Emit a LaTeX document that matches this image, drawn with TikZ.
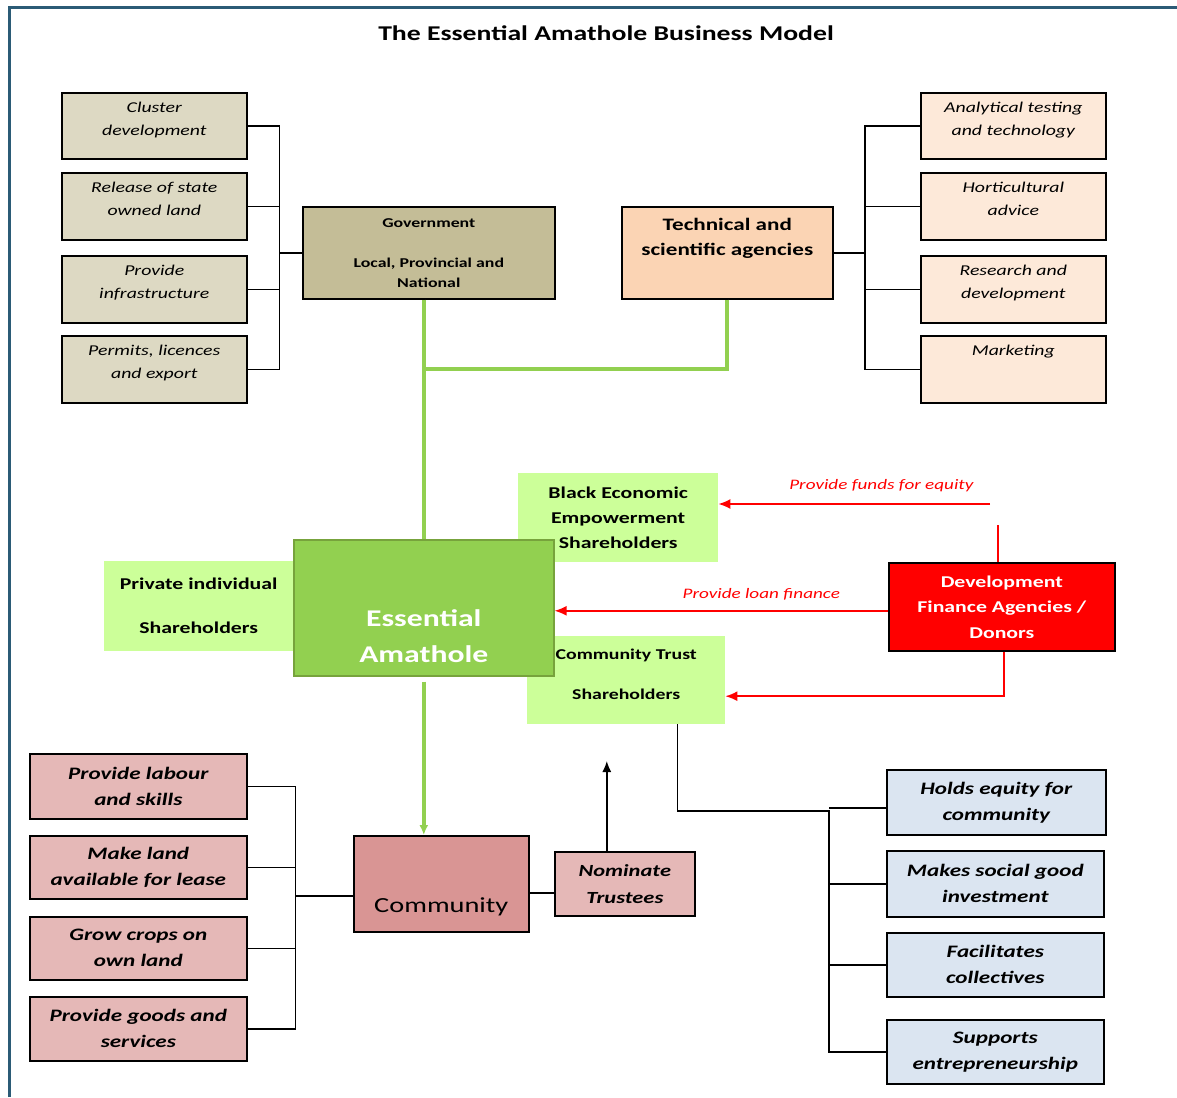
\documentclass[tikz,border=0pt]{standalone}
\usepackage{fontspec}
\setmainfont{Carlito}[FakeStretch=1.32]
\usetikzlibrary{arrows.meta}

\definecolor{frameblue}{HTML}{2B5B76}
\definecolor{tan}{HTML}{DDD9C3}
\definecolor{govtan}{HTML}{C4BD97}
\definecolor{techpeach}{HTML}{FBD4B4}
\definecolor{lightpeach}{HTML}{FDE9D9}
\definecolor{sharegreen}{HTML}{CCFF99}
\definecolor{eagreen}{HTML}{92D050}
\definecolor{eaborder}{HTML}{77A33C}
\definecolor{compink}{HTML}{D99594}
\definecolor{lightpink}{HTML}{E5B8B7}
\definecolor{lightblue}{HTML}{DBE5F1}

\begin{document}
\begin{tikzpicture}[x=1pt,y=-1pt,
  box/.style={draw=black,line width=1.6pt,anchor=north west,align=center,inner sep=0pt},
  topitem/.style={box,fill=tan,minimum width=185pt,font=\fontsize{15}{23}\selectfont\itshape},
  techitem/.style={topitem,fill=lightpeach},
  comitem/.style={box,fill=lightpink,minimum width=217pt,font=\fontsize{17.5}{26}\selectfont\bfseries\itshape},
  trustitem/.style={box,fill=lightblue,minimum width=217pt,font=\fontsize{17.5}{26}\selectfont\bfseries\itshape},
  sharebox/.style={anchor=north west,fill=sharegreen,align=center,inner sep=0pt,font=\fontsize{16.5}{25}\selectfont\bfseries},
  link/.style={draw=black,line width=1.5pt},
  gline/.style={draw=eagreen,line width=4pt},
  rline/.style={draw=red,line width=1.6pt},
  rarrow/.style={rline,-{Latex[length=12pt,width=10pt]}},
  rlabel/.style={text=red,font=\fontsize{14.5}{17}\selectfont\itshape,inner sep=0pt}]
\useasboundingbox (0,0) rectangle (1177,1097);

% frame and title
\draw[frameblue,line width=3pt] (9,1097) -- (9,8) -- (1177,8);
\node[font=\fontsize{21}{25}\selectfont\bfseries] (title) at (606,33) {The Essential Amathole Business Model};

% government side
\node[topitem,minimum height=66pt] (c1) at (61,92) {Cluster\\development\\[-8pt]\mbox{}};
\node[topitem,minimum height=67pt] (c2) at (61,172) {Release of state\\owned land\\[-8pt]\mbox{}};
\node[topitem,minimum height=67pt] (c3) at (61,255) {Provide\\infrastructure\\[-8pt]\mbox{}};
\node[topitem,minimum height=67pt] (c4) at (61,335) {Permits, licences\\and export\\[-8pt]\mbox{}};
\node[box,fill=govtan,minimum width=252pt,minimum height=92pt,font=\fontsize{13.5}{20}\selectfont\bfseries] (gov) at (302,206)
  {Government\\[20pt]Local, Provincial and\\National};

% technical side
\node[box,fill=techpeach,minimum width=211pt,minimum height=92pt,font=\fontsize{17.5}{25}\selectfont\bfseries] (tech) at (621,206)
  {Technical and\\scientific agencies\\\strut};
\node[techitem,minimum height=66pt] (a1) at (920,92) {Analytical testing\\and technology\\[-8pt]\mbox{}};
\node[techitem,minimum height=67pt] (a2) at (920,172) {Horticultural\\advice\\[-8pt]\mbox{}};
\node[techitem,minimum height=67pt] (a3) at (920,255) {Research and\\development\\[-8pt]\mbox{}};
\node[techitem,minimum height=67pt] (a4) at (920,335) {Marketing\\\strut\\[-8pt]\mbox{}};

% brackets at the top
\path (c1.east) ++(32,0) coordinate (lb1);
\draw[link] (c1.east) -- (lb1) |- (c4.east);
\foreach \n in {c2,c3} \draw[link] (\n.east) -- (\n.east -| lb1);
\draw[link] (gov.west) -- (gov.west -| lb1);
\path (a1.west) ++(-55,0) coordinate (rb1);
\draw[link] (a1.west) -- (rb1) |- (a4.west);
\foreach \n in {a2,a3} \draw[link] (\n.west) -- (\n.west -| rb1);
\draw[link] (tech.east) -- (tech.east -| rb1);

% shareholders and the company
\node[sharebox,minimum width=189pt,minimum height=90pt] (priv) at (104,561) {Private individual\\[19pt]Shareholders};
\node[sharebox,minimum width=200pt,minimum height=89pt] (bee) at (518,473) {Black Economic\\Empowerment\\Shareholders};
\node[sharebox,minimum width=198pt,minimum height=88pt,font=\fontsize{15}{20}\selectfont\bfseries] (cts) at (527,636)
  {Community Trust\\[20pt]Shareholders\\[-14pt]\strut};
\node[box,draw=eaborder,fill=eagreen,text=white,minimum width=260pt,minimum height=136pt,font=\fontsize{24}{36}\selectfont\bfseries] (ea) at (293,539)
  {\strut\\[12pt]Essential\\Amathole};
\node[box,fill=red,text=white,minimum width=226pt,minimum height=88pt,font=\fontsize{16.5}{25.5}\selectfont\bfseries] (dfa) at (888,562)
  {Development\\Finance Agencies /\\Donors};

% green links
\path (tech.south) ++(0,69) coordinate (gj);
\draw[gline] (tech.south) -- (gj) -| (ea.north);
\draw[gline] (gov.south -| ea.north) -- (ea.north);

% funding
\coordinate (fe) at (990,504);
\draw[rarrow] (fe) -- (fe -| bee.east) node[rlabel,pos=0.4,above=11pt] (lfund) {Provide funds for equity};
\draw[rline] ([xshift=-4pt]dfa.north) -- ++(0,-37);
\draw[rarrow] ([yshift=-4pt]dfa.west) -- ([yshift=-4pt]dfa.west -| ea.east) node[rlabel,pos=0.38,above=10pt] (lloan) {Provide loan finance};
\draw[rarrow] ([xshift=2pt]dfa.south) |- ([yshift=-16pt]cts.east);

% community
\node[box,fill=compink,minimum width=175pt,minimum height=96pt,font=\fontsize{21.5}{36}\selectfont] (com) at (353,835) {\strut\\Community};
\node[box,fill=lightpink,minimum width=140pt,minimum height=64pt,font=\fontsize{17}{27}\selectfont\bfseries\itshape] (nom) at (554,851) {Nominate\\Trustees};
\draw[gline,line width=3.5pt,shorten <=5pt,-{Latex[length=10pt,width=9pt]}] (ea.south) -- (com.north -| ea.south);
\draw[link] ([yshift=-9pt]com.east) -- ([yshift=-9pt]nom.west);
\path ([xshift=-18pt]nom.north) ++(0,-90) coordinate (nt);
\draw[link,-{Latex[length=11pt,width=9pt]}] ([xshift=-18pt]nom.north) -- (nt);

\node[comitem,minimum height=65pt] (p1) at (29,753) {Provide labour\\and skills};
\node[comitem,minimum height=63pt] (p2) at (29,835) {Make land\\available for lease};
\node[comitem,minimum height=63pt] (p3) at (29,916) {Grow crops on\\own land};
\node[comitem,minimum height=64pt] (p4) at (29,996) {Provide goods and\\services};
\path (p1.east) ++(48,0) coordinate (lb2);
\draw[link] (p1.east) -- (lb2) |- (p4.east);
\foreach \n in {p2,p3} \draw[link] (\n.east) -- (\n.east -| lb2);
\draw[link] ([yshift=-12pt]com.west) -- ([yshift=-12pt]com.west -| lb2);

% community trust
\node[trustitem,minimum width=219pt,minimum height=65pt] (s1) at (886,769) {Holds equity for\\community};
\node[trustitem,minimum height=66pt] (s2) at (886,850) {Makes social good\\investment};
\node[trustitem,minimum height=64pt] (s3) at (886,932) {Facilitates\\collectives};
\node[trustitem,minimum height=64pt] (s4) at (886,1019) {Supports\\entrepreneurship};
\coordinate (rb2) at (829,811);
\draw[link] ([xshift=-48pt]cts.south east) |- (rb2) -- (rb2 |- s4.west) -- (s4.west);
\draw[link] ([yshift=3pt]rb2) -- ([yshift=3pt]rb2 -| s1.west);
\foreach \n in {s2,s3} \draw[link] (\n.west -| rb2) -- (\n.west);

\end{tikzpicture}
\end{document}
